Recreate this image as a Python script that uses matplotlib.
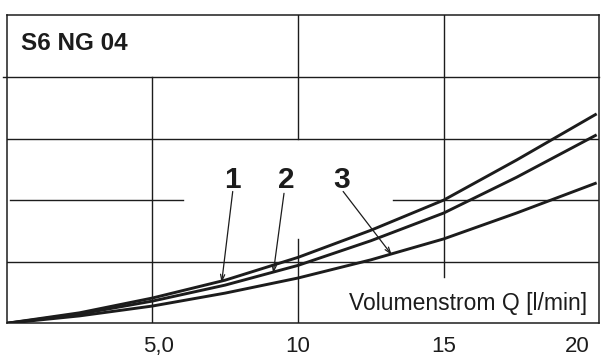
import matplotlib.pyplot as plt
from matplotlib.transforms import ScaledTranslation

plt.rcParams['font.family'] = ['Liberation Sans', 'DejaVu Sans']

# Kennlinien S6 NG 04
q = [0, 2.5, 5, 7.5, 10, 12.5, 15, 17.5, 20.25]
curve_1 = [0, 0.17, 0.41, 0.70, 1.07, 1.51, 2.00, 2.65, 3.40]
curve_2 = [0, 0.15, 0.36, 0.62, 0.94, 1.34, 1.79, 2.37, 3.06]
curve_3 = [0, 0.12, 0.28, 0.49, 0.735, 1.03, 1.37, 1.79, 2.28]

tick_pos = [5, 10, 15, 20]
tick_labels = ['5,0', '10', '15', '20']

# Kurvennummern: Textposition und Pfeilspitze auf der Kurve
labels = ['1', '2', '3']
label_xy = [(7.74, 2.33), (9.59, 2.33), (11.51, 2.33)]
arrow_from = [(7.76, 2.14), (9.52, 2.11), (11.55, 2.14)]
arrow_to = [(7.38, 0.66), (9.15, 0.81), (13.22, 1.11)]

fig = plt.figure(figsize=(6.06, 3.6), dpi=100)
ax = fig.add_axes([6.6 / 606, 1 - 323.3 / 360, 592.1 / 606, 308 / 360])
ax.set_xlim(0, 20.32)
ax.set_ylim(0, 5)

ink = '#1c1c1c'
for s in ax.spines.values():
    s.set_linewidth(1.1)
    s.set_color(ink)

# Raster, teilweise unterbrochen fuer die Beschriftungen
glw = 1.0
ax.plot([-0.12, 20.32], [4, 4], color=ink, lw=glw, clip_on=False)
ax.plot([0, 20.32], [3, 3], color=ink, lw=glw)
ax.plot([0.12, 6.05], [2, 2], color=ink, lw=glw)
ax.plot([13.26, 20.32], [2, 2], color=ink, lw=glw)
ax.plot([0, 20.32], [1, 1], color=ink, lw=glw)
ax.plot([5, 5], [0, 4], color=ink, lw=glw)
ax.plot([10, 10], [3, 5], color=ink, lw=glw)
ax.plot([10, 10], [0, 1.37], color=ink, lw=glw)
ax.plot([15, 15], [0.75, 5], color=ink, lw=glw)

for ys in (curve_1, curve_2, curve_3):
    ax.plot(q, ys, color=ink, lw=2.1, solid_capstyle='butt',
            solid_joinstyle='round')

for lab, pos, a, b in zip(labels, label_xy, arrow_from, arrow_to):
    ax.text(pos[0], pos[1], lab, fontsize=21.5, fontweight='bold',
            ha='center', va='center', color=ink)
    ax.annotate('', xy=b, xytext=a,
                arrowprops=dict(arrowstyle='->,head_length=0.45,head_width=0.15',
                                color=ink, lw=0.9, shrinkA=0, shrinkB=0))

ax.text(0.49, 4.44, 'S6 NG 04', fontsize=17.5, fontweight='bold',
        ha='left', va='baseline', color=ink)
ax.text(19.92, 0.22, 'Volumenstrom Q [l/min]', fontsize=16.5,
        ha='right', va='baseline', color=ink)

ax.set_yticks([])
ax.set_xticks(tick_pos)
ax.set_xticklabels(tick_labels, fontsize=16, color=ink)
ax.tick_params(axis='x', length=0, pad=9)
xl = ax.get_xticklabels()
xl[0].set_transform(xl[0].get_transform() + ScaledTranslation(6 / 100, 0, fig.dpi_scale_trans))
xl[-1].set_horizontalalignment('right')

fig.savefig('out.png', dpi=100)
